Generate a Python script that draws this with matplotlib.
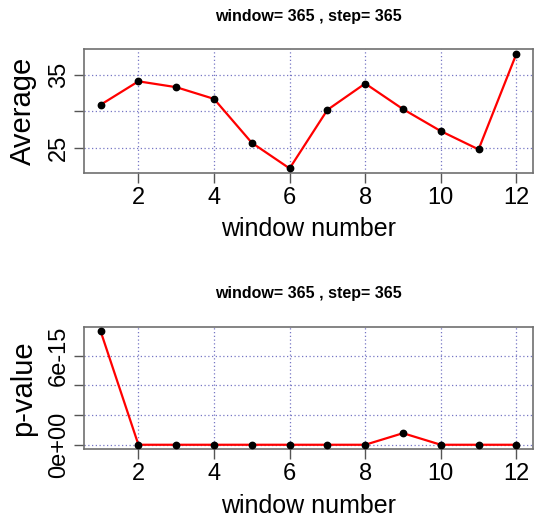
import matplotlib
matplotlib.use("Agg")
import matplotlib.pyplot as plt

plt.rcParams['font.family'] = ['Liberation Sans', 'DejaVu Sans']

windows = [1, 2, 3, 4, 5, 6, 7, 8, 9, 10, 11, 12]
average = [30.9, 34.1, 33.3, 31.7, 25.7, 22.2, 30.2, 33.8, 30.3, 27.3, 24.8, 37.85]
pvalue = [7.65e-15, 0, 0, 0, 0, 0, 0, 0, 0.78e-15, 0, 0, 0]

title = "window= 365 , step= 365"
xticks = [2, 4, 6, 8, 10, 12]
avg_ticks = [25, 30, 35]
avg_labels = ["25", "", "35"]
p_ticks = [0, 2e-15, 4e-15, 6e-15]
p_labels = ["0e+00", "", "", "6e-15"]

W, H = 550, 522
fig = plt.figure(figsize=(W / 100, H / 100), dpi=100)

def px_axes(x0, y0, x1, y1):
    return fig.add_axes([x0 / W, 1 - y1 / H, (x1 - x0) / W, (y1 - y0) / H])

grid_col = "#7676c4"
frame_col = "#707070"

def style(ax, yvals, yticks, ylabels, ylabel, title_y):
    ax.plot(windows, yvals, color="red", lw=1.6, zorder=3)
    ax.plot(windows, yvals, "o", color="black", ms=4.6, zorder=4)
    ax.margins(x=0.04, y=0.04)
    ax.set_xticks(xticks)
    ax.set_xticklabels([str(t) for t in xticks], fontsize=17)
    ax.set_yticks(yticks)
    ax.set_yticklabels(ylabels, fontsize=17, rotation=90, va="center")
    for t in xticks:
        ax.axvline(t, color=grid_col, lw=0.9, ls=(0, (1, 2)), zorder=1)
    for t in yticks:
        ax.axhline(t, color=grid_col, lw=0.9, ls=(0, (1, 2)), zorder=1)
    for s in ax.spines.values():
        s.set_color(frame_col)
        s.set_linewidth(1.2)
    ax.tick_params(length=7, width=1.0, color="#555555", pad=3)
    ax.set_xlabel("window number", fontsize=18, labelpad=6)
    ax.set_ylabel(ylabel, fontsize=21, labelpad=8)
    fig.text(308.5 / W, 1 - title_y / H, title, ha="center", va="center",
             fontsize=11.5, fontweight="bold")

ax1 = px_axes(84, 49.3, 533, 173)
style(ax1, average, avg_ticks, avg_labels, "Average", 16.5)

ax2 = px_axes(84, 326.7, 533, 449.3)
style(ax2, pvalue, p_ticks, p_labels, "p-value", 293.5)

fig.savefig("out.png", dpi=100)
